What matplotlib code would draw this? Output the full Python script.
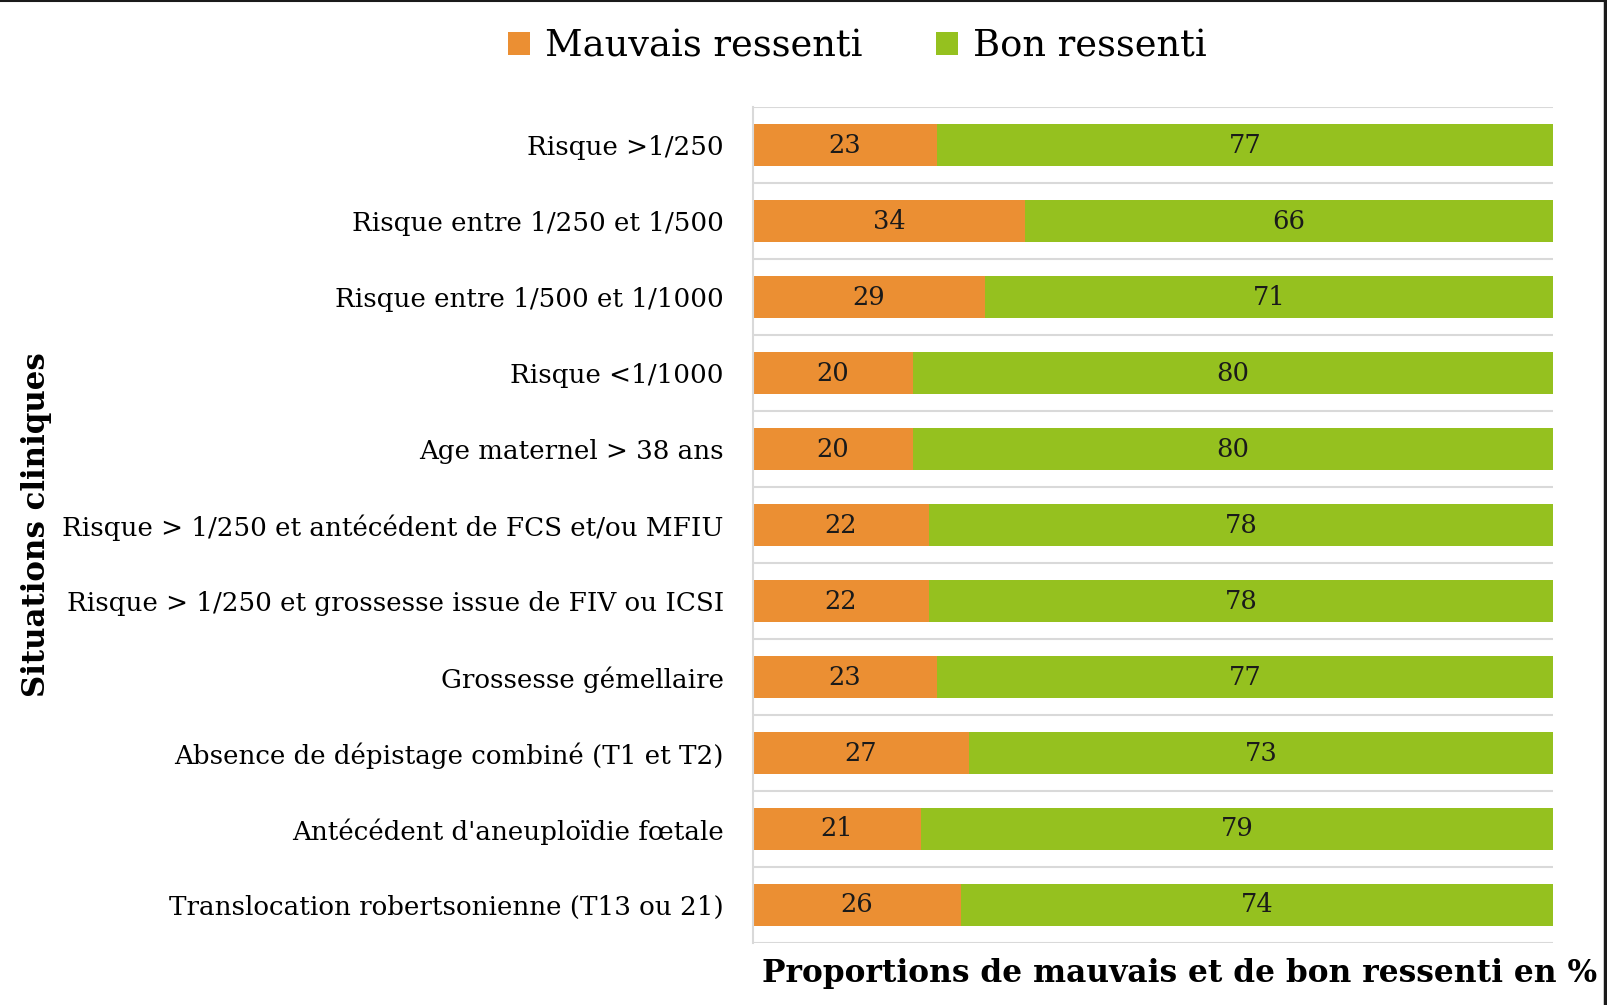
import numpy as np
import matplotlib.pyplot as plt
from matplotlib.lines import Line2D

# Situations cliniques, de haut en bas
situations = [
    "Risque >1/250",
    "Risque entre 1/250 et 1/500",
    "Risque entre 1/500 et 1/1000",
    "Risque <1/1000",
    "Age maternel > 38 ans",
    "Risque > 1/250 et antécédent de FCS et/ou MFIU",
    "Risque > 1/250 et grossesse issue de FIV ou ICSI",
    "Grossesse gémellaire",
    "Absence de dépistage combiné (T1 et T2)",
    "Antécédent d'aneuploïdie fœtale",
    "Translocation robertsonienne (T13 ou 21)",
]
mauvais = [23, 34, 29, 20, 20, 22, 22, 23, 27, 21, 26]
bon = [77, 66, 71, 80, 80, 78, 78, 77, 73, 79, 74]

orange = "#EB8F33"
vert = "#95C11F"
serif = ["DejaVu Serif"]

fig = plt.figure(figsize=(16.08, 10.05), dpi=100)
ax = fig.add_axes([0.4683, 0.0617, 0.4975, 0.8318])

y = np.arange(len(situations))
b1 = ax.barh(y, mauvais, height=0.55, color=orange, label="Mauvais ressenti")
b2 = ax.barh(y, bon, left=mauvais, height=0.55, color=vert, label="Bon ressenti")

for bars, vals in ((b1, mauvais), (b2, bon)):
    ax.bar_label(bars, labels=[str(v) for v in vals], label_type="center",
                 fontsize=18.5, family=serif, color="#1a1a1a")

ax.set_xlim(0, 100)
ax.set_ylim(len(situations) - 0.5, -0.5)
ax.set_yticks(y)
ax.set_yticklabels(situations, family=serif, fontsize=18.8)
ax.set_yticks(np.arange(len(situations) + 1) - 0.5, minor=True)
ax.tick_params(axis="y", which="both", length=0, pad=21)
ax.set_xticks([])
ax.grid(axis="y", which="minor", color="#D9D9D9", linewidth=1.5)
ax.set_axisbelow(True)
for s in ("top", "right", "bottom"):
    ax.spines[s].set_visible(False)
ax.spines["left"].set_color("#D9D9D9")
ax.spines["left"].set_linewidth(1.5)

fig.text(0.0224, 0.478, "Situations cliniques", rotation=90, ha="center",
         va="center", fontsize=22.2, fontweight="bold", family=serif)
fig.text(0.993, 0.031, "Proportions de mauvais et de bon ressenti en %",
         ha="right", va="center", fontsize=22.5, fontweight="bold", family=serif)

fig.legend(handles=[b1, b2], loc="center", bbox_to_anchor=(0.533, 0.954),
           ncol=2, frameon=False, prop={"family": serif, "size": 26.5},
           handlelength=0.6, handleheight=0.6, handletextpad=0.4,
           columnspacing=2.0)

# cadre sombre en haut et a droite
fig.add_artist(Line2D([0, 1], [0.999, 0.999], color="#1a1a1a", linewidth=1.5,
                      transform=fig.transFigure))
fig.add_artist(Line2D([0.998, 0.998], [0, 1], color="#1a1a1a", linewidth=2.5,
                      transform=fig.transFigure))

fig.savefig("out.png", dpi=100)
